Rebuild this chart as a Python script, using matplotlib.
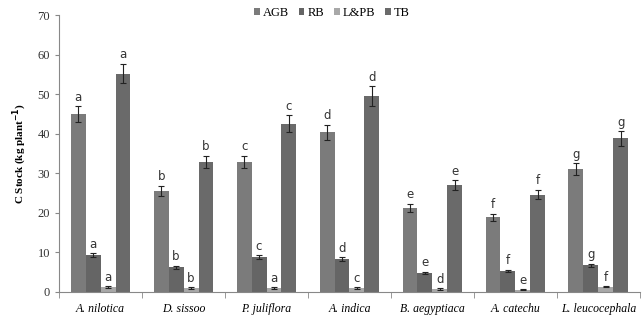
import numpy as np
import matplotlib
matplotlib.use("Agg")
import matplotlib.pyplot as plt

species = ["A. nilotica", "D. sissoo", "P. juliflora", "A. indica",
           "B. aegyptiaca", "A. catechu", "L. leucocephala"]
components = ["AGB", "RB", "L&PB", "TB"]

agb = [45.0, 25.5, 32.8, 40.3, 21.3, 18.8, 31.0]
rb = [9.2, 6.2, 8.8, 8.3, 4.8, 5.3, 6.7]
lpb = [1.2, 1.0, 1.0, 1.0, 0.7, 0.5, 1.3]
tb = [55.2, 32.8, 42.5, 49.5, 27.0, 24.6, 38.8]

agb_err = [2.0, 1.3, 1.6, 2.0, 1.0, 1.0, 1.5]
rb_err = [0.5, 0.4, 0.5, 0.5, 0.3, 0.3, 0.4]
lpb_err = [0.2, 0.2, 0.2, 0.2, 0.15, 0.1, 0.2]
tb_err = [2.5, 1.6, 2.1, 2.5, 1.3, 1.2, 1.8]

agb_lab = ["a", "b", "c", "d", "e", "f", "g"]
rb_lab = ["a", "b", "c", "d", "e", "f", "g"]
lpb_lab = ["a", "b", "a", "c", "d", "e", "f"]
tb_lab = ["a", "b", "c", "d", "e", "f", "g"]

series = [agb, rb, lpb, tb]
errors = [agb_err, rb_err, lpb_err, tb_err]
letters = [agb_lab, rb_lab, lpb_lab, tb_lab]
colors = ["#7b7b7b", "#656565", "#a8a8a8", "#6a6a6a"]

plt.rcParams['font.family'] = ['Liberation Serif', 'DejaVu Serif']

fig = plt.figure(figsize=(6.43, 3.20), dpi=100)
ax = fig.add_axes([0.092, 0.088, 0.903, 0.865])

x = np.arange(len(species))
w = 0.18
for i, (vals, errs, labs) in enumerate(zip(series, errors, letters)):
    pos = x + (i - 1.5) * w
    ax.bar(pos, vals, w, color=colors[i], label=components[i],
           yerr=errs, capsize=2, error_kw=dict(elinewidth=0.8, capthick=0.8, ecolor="#222222"))
    for p, v, e, lab in zip(pos, vals, errs, labs):
        ax.text(p, v + e + 0.6, lab, ha="center", va="bottom", fontsize=8.5,
                family="DejaVu Sans", color="#333333")

ax.set_xlim(-0.5, len(species) - 0.5)
ax.set_ylim(0, 70)
ax.set_yticks(range(0, 71, 10))
ax.set_xticks(x)
ax.set_xticklabels(species, fontstyle="italic", fontsize=8.5)
ax.tick_params(axis="x", length=0, pad=8)
ax.set_xticks(np.arange(-0.5, len(species), 1), minor=True)
ax.tick_params(axis="x", which="minor", length=4, color="#888888")
ax.tick_params(axis="y", labelsize=9, length=3, color="#888888", labelcolor="#333333")
ax.set_ylabel(r"C Stock (kg plant$^{\mathbf{-1}}$)", fontsize=8, fontweight="bold", labelpad=6)
for s in ["top", "right"]:
    ax.spines[s].set_visible(False)
for s in ["left", "bottom"]:
    ax.spines[s].set_color("#888888")

ax.legend(loc="upper center", bbox_to_anchor=(0.47, 1.07), ncol=4, frameon=False,
          fontsize=9, handlelength=0.45, handleheight=0.45, handletextpad=0.25,
          columnspacing=0.8)

fig.savefig("out.png", dpi=100)
